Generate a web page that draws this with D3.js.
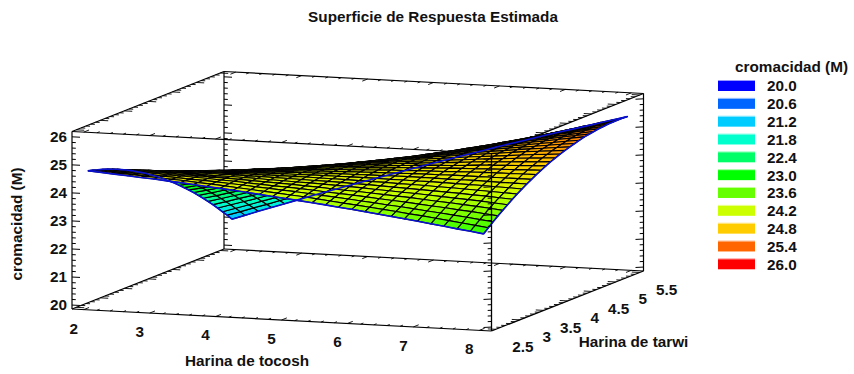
<!DOCTYPE html>
<html><head><meta charset="utf-8">
<script src="https://cdn.jsdelivr.net/npm/d3@7"></script>
<style>html,body{margin:0;padding:0;background:#fff}svg{display:block}
text{font-family:"Liberation Sans",Arial,sans-serif;font-weight:bold;fill:#111}</style>
</head><body><svg id="c" width="854" height="374"></svg>
<script>
const chartTitle = "Superficie de Respuesta Estimada";
const xTitle = "Harina de tocosh", yTitle = "Harina de tarwi", zTitle = "cromacidad (M)";
const xTicks = [2,3,4,5,6,7,8];
const yTicks = [2.5,3,3.5,4,4.5,5,5.5];
const zTicks = [20,21,22,23,24,25,26];
const legendValues = [20.0,20.6,21.2,21.8,22.4,23.0,23.6,24.2,24.8,25.4,26.0];
const legendColors = ["#0000ff","#0066ff","#00ccff","#00ffcc","#00ff66","#00ff00","#66ff00","#ccff00","#ffcc00","#ff6600","#ff0000"];
// surface: one row per Harina de tarwi (2.5 to 5.5), one column per Harina de tocosh (2 to 8)
const surfaceZ = [
[24.75,24.72,24.68,24.65,24.61,24.58,24.54,24.50,24.46,24.41,24.37,24.33,24.28,24.23,24.18,24.13,24.08,24.03,23.98,23.92,23.87,23.81,23.75,23.69,23.63,23.57,23.50,23.44,23.37,23.31,23.24],
[24.71,24.68,24.65,24.62,24.59,24.56,24.53,24.50,24.46,24.43,24.39,24.35,24.31,24.27,24.23,24.19,24.15,24.10,24.05,24.00,23.95,23.90,23.85,23.80,23.74,23.69,23.63,23.57,23.51,23.45,23.39],
[24.65,24.63,24.61,24.59,24.57,24.55,24.52,24.49,24.47,24.44,24.41,24.38,24.34,24.31,24.27,24.24,24.20,24.16,24.12,24.08,24.03,23.99,23.94,23.90,23.85,23.80,23.75,23.70,23.65,23.59,23.54],
[24.60,24.59,24.57,24.56,24.55,24.52,24.51,24.49,24.47,24.44,24.42,24.39,24.36,24.33,24.31,24.28,24.25,24.21,24.18,24.15,24.11,24.07,24.03,24.00,23.95,23.91,23.87,23.82,23.78,23.73,23.68],
[24.54,24.53,24.52,24.52,24.51,24.49,24.48,24.47,24.45,24.44,24.42,24.40,24.38,24.36,24.34,24.31,24.29,24.26,24.23,24.21,24.18,24.15,24.12,24.09,24.05,24.01,23.98,23.94,23.90,23.86,23.81],
[24.47,24.47,24.47,24.46,24.46,24.46,24.45,24.44,24.43,24.43,24.42,24.41,24.39,24.38,24.36,24.35,24.33,24.31,24.29,24.27,24.24,24.22,24.19,24.17,24.14,24.11,24.08,24.05,24.02,23.98,23.94],
[24.40,24.40,24.41,24.41,24.42,24.42,24.42,24.42,24.42,24.42,24.41,24.41,24.40,24.39,24.38,24.37,24.36,24.35,24.33,24.32,24.30,24.28,24.26,24.24,24.22,24.20,24.18,24.15,24.13,24.10,24.07],
[24.32,24.33,24.34,24.35,24.36,24.38,24.38,24.39,24.39,24.40,24.40,24.40,24.40,24.40,24.40,24.39,24.39,24.38,24.37,24.36,24.36,24.34,24.33,24.32,24.30,24.29,24.27,24.25,24.23,24.21,24.19],
[24.24,24.25,24.27,24.29,24.31,24.32,24.34,24.35,24.36,24.37,24.38,24.39,24.40,24.40,24.41,24.41,24.41,24.41,24.41,24.41,24.40,24.40,24.39,24.39,24.38,24.37,24.36,24.35,24.33,24.32,24.30],
[24.15,24.17,24.20,24.22,24.25,24.27,24.29,24.31,24.33,24.34,24.36,24.37,24.39,24.40,24.41,24.42,24.43,24.43,24.44,24.44,24.45,24.45,24.45,24.45,24.44,24.44,24.44,24.43,24.42,24.42,24.41],
[24.05,24.09,24.12,24.15,24.18,24.21,24.23,24.26,24.28,24.31,24.33,24.35,24.37,24.39,24.41,24.42,24.44,24.45,24.46,24.47,24.48,24.49,24.50,24.50,24.51,24.51,24.51,24.51,24.51,24.51,24.51],
[23.95,23.99,24.03,24.07,24.10,24.14,24.17,24.21,24.24,24.27,24.30,24.33,24.35,24.38,24.40,24.42,24.44,24.46,24.48,24.50,24.51,24.53,24.54,24.55,24.57,24.58,24.59,24.60,24.60,24.61,24.61],
[23.85,23.89,23.94,23.98,24.02,24.07,24.10,24.14,24.18,24.22,24.25,24.29,24.32,24.35,24.38,24.41,24.44,24.47,24.49,24.52,24.54,24.56,24.58,24.60,24.62,24.63,24.65,24.66,24.67,24.69,24.70],
[23.73,23.79,23.84,23.89,23.94,23.99,24.03,24.08,24.13,24.17,24.21,24.25,24.29,24.33,24.37,24.40,24.43,24.46,24.50,24.53,24.56,24.59,24.61,24.63,24.66,24.69,24.71,24.73,24.75,24.77,24.79],
[23.62,23.68,23.73,23.79,23.85,23.90,23.95,24.01,24.06,24.11,24.16,24.21,24.25,24.30,24.34,24.38,24.42,24.46,24.50,24.54,24.57,24.61,24.64,24.67,24.71,24.74,24.77,24.79,24.82,24.84,24.87],
[23.50,23.56,23.63,23.69,23.75,23.81,23.87,23.93,23.99,24.05,24.10,24.16,24.21,24.26,24.31,24.36,24.41,24.45,24.50,24.54,24.58,24.62,24.66,24.70,24.74,24.78,24.81,24.85,24.88,24.91,24.94],
[23.37,23.44,23.51,23.58,23.65,23.72,23.79,23.85,23.92,23.98,24.04,24.10,24.16,24.22,24.27,24.33,24.38,24.44,24.49,24.54,24.59,24.63,24.68,24.73,24.77,24.81,24.85,24.90,24.94,24.97,25.01],
[23.23,23.31,23.39,23.47,23.54,23.62,23.69,23.76,23.83,23.90,23.97,24.04,24.10,24.17,24.23,24.30,24.36,24.42,24.48,24.53,24.59,24.64,24.70,24.75,24.80,24.85,24.90,24.95,24.99,25.03,25.07],
[23.10,23.19,23.27,23.35,23.43,23.51,23.59,23.67,23.75,23.82,23.90,23.97,24.04,24.11,24.19,24.26,24.32,24.39,24.45,24.52,24.58,24.64,24.70,24.76,24.82,24.87,24.93,24.98,25.03,25.08,25.13],
[22.95,23.04,23.14,23.23,23.31,23.40,23.49,23.57,23.66,23.74,23.82,23.90,23.98,24.06,24.13,24.21,24.28,24.35,24.43,24.50,24.56,24.63,24.70,24.76,24.83,24.89,24.95,25.01,25.07,25.13,25.18],
[22.80,22.90,23.00,23.09,23.19,23.28,23.38,23.47,23.56,23.65,23.74,23.82,23.91,23.99,24.07,24.16,24.24,24.32,24.39,24.47,24.55,24.62,24.69,24.76,24.83,24.91,24.97,25.04,25.10,25.17,25.23],
[22.65,22.75,22.86,22.96,23.06,23.16,23.26,23.36,23.46,23.55,23.65,23.74,23.83,23.92,24.01,24.10,24.19,24.27,24.36,24.44,24.52,24.60,24.68,24.76,24.84,24.92,24.99,25.06,25.14,25.21,25.28],
[22.49,22.60,22.71,22.82,22.92,23.03,23.14,23.24,23.35,23.45,23.55,23.65,23.75,23.85,23.94,24.04,24.13,24.22,24.31,24.40,24.49,24.58,24.67,24.75,24.83,24.92,25.00,25.08,25.16,25.24,25.31],
[22.32,22.44,22.56,22.67,22.79,22.90,23.01,23.12,23.23,23.34,23.45,23.56,23.66,23.76,23.87,23.97,24.07,24.17,24.27,24.36,24.46,24.55,24.64,24.74,24.83,24.92,25.00,25.09,25.17,25.26,25.34],
[22.15,22.27,22.40,22.52,22.64,22.76,22.88,23.00,23.11,23.23,23.35,23.46,23.57,23.68,23.79,23.90,24.00,24.11,24.21,24.32,24.42,24.52,24.62,24.72,24.81,24.91,25.00,25.10,25.19,25.28,25.37],
[21.97,22.10,22.23,22.36,22.49,22.62,22.74,22.87,22.99,23.11,23.23,23.35,23.47,23.59,23.70,23.82,23.93,24.04,24.15,24.26,24.37,24.48,24.58,24.69,24.79,24.89,24.99,25.09,25.19,25.29,25.38],
[21.79,21.92,22.06,22.19,22.33,22.47,22.60,22.73,22.86,22.99,23.12,23.24,23.37,23.49,23.61,23.73,23.85,23.97,24.09,24.21,24.32,24.43,24.55,24.66,24.77,24.88,24.98,25.09,25.19,25.30,25.40],
[21.60,21.74,21.88,22.02,22.17,22.31,22.45,22.59,22.72,22.86,22.99,23.12,23.25,23.38,23.51,23.64,23.76,23.89,24.01,24.14,24.26,24.38,24.50,24.62,24.74,24.85,24.96,25.08,25.19,25.30,25.41],
[21.40,21.55,21.70,21.85,22.00,22.15,22.30,22.44,22.58,22.72,22.86,23.00,23.14,23.27,23.41,23.55,23.68,23.81,23.94,24.07,24.20,24.32,24.45,24.57,24.70,24.82,24.94,25.06,25.18,25.30,25.41],
[21.21,21.36,21.52,21.67,21.83,21.98,22.14,22.29,22.44,22.59,22.73,22.88,23.02,23.17,23.31,23.45,23.59,23.73,23.86,24.00,24.13,24.26,24.40,24.53,24.66,24.79,24.91,25.04,25.16,25.29,25.41],
[21.00,21.16,21.33,21.49,21.65,21.81,21.97,22.13,22.28,22.44,22.59,22.74,22.89,23.04,23.19,23.34,23.48,23.63,23.77,23.91,24.06,24.20,24.33,24.47,24.61,24.74,24.87,25.00,25.14,25.27,25.40]
];

const svg = d3.select("#c");
// axis scales: each maps a value to its 0..1 position along one edge of the box
const U = d3.scaleLinear().domain([1.822,8.185]).range([0,1]);
const V = d3.scaleLinear().domain([2.411,5.579]).range([0,1]);
const W = d3.scaleLinear().domain([19.86,26.19]).range([0,177.5]);
const origin = [72,309], du = [419.5,22], dv = [152,-60];
const P = (x,y,z) => [
  origin[0] + U(x)*du[0] + V(y)*dv[0],
  origin[1] + U(x)*du[1] + V(y)*dv[1] - W(z)
];
const X0=U.domain()[0],X1=U.domain()[1],Y0=V.domain()[0],Y1=V.domain()[1],Z0=W.domain()[0],Z1=W.domain()[1];
const line = d3.line();
const color = d3.scaleLinear().domain(legendValues).range(legendColors).clamp(true);
const gridX = i => 2 + i*6/(surfaceZ[0].length-1);
const gridY = j => 2.5 + j*3/(surfaceZ.length-1);

function seg(g,a,b,w){ g.append("path").attr("d",line([a,b])).attr("fill","none").attr("stroke","#000").attr("stroke-width",w); }

const back = svg.append("g");
// box edges
[[ [X0,Y1,Z0],[X1,Y1,Z0] ],[ [X0,Y0,Z0],[X0,Y1,Z0] ],[ [X1,Y0,Z0],[X1,Y1,Z0] ],[ [X0,Y0,Z0],[X1,Y0,Z0] ],
 [ [X0,Y1,Z1],[X1,Y1,Z1] ],[ [X0,Y0,Z1],[X0,Y1,Z1] ],[ [X1,Y0,Z1],[X1,Y1,Z1] ],[ [X0,Y0,Z1],[X1,Y0,Z1] ],
 [ [X0,Y0,Z0],[X0,Y0,Z1] ],[ [X0,Y1,Z0],[X0,Y1,Z1] ],[ [X1,Y1,Z0],[X1,Y1,Z1] ]
].forEach(e=>seg(back,P(...e[0]),P(...e[1]),1.2));

// z ticks on vertical edges
const zMinor = d3.range(20,26.01,0.2);
function zEdge(g,x,y,sign){
  zMinor.forEach(z=>{
    const major = Math.abs(z-Math.round(z))<1e-6;
    const p = P(x,y,z);
    seg(g,p,[p[0]+sign*(major?8:3.8),p[1]+(major?0.4:0.2)],1);
  });
}
zEdge(back,X0,Y0,1); zEdge(back,X0,Y1,1); zEdge(back,X1,Y1,-1);

// x ticks along the long edges, y ticks along the short edges
const xMinor = d3.range(2,8.01,0.2), yMinor = d3.range(2.5,5.51,0.1);
[[Y0,1],[Y1,-1]].forEach(([y,s])=>[Z0,Z1].forEach(z=>xMinor.forEach(x=>{
  const major = Math.abs(x-Math.round(x))<1e-6, p=P(x,y,z), l=major?0.035:0.018;
  seg(back,p,[p[0]+s*l*dv[0],p[1]+s*l*dv[1]],0.9);
})));
[[X0,1],[X1,-1]].forEach(([x,s])=>[Z0,Z1].forEach(z=>yMinor.forEach(y=>{
  const major = Math.abs(y*2-Math.round(y*2))<1e-6, p=P(x,y,z), l=major?0.019:0.01;
  seg(back,p,[p[0]+s*l*du[0],p[1]+s*l*du[1]],0.9);
})));

// surface, far rows first so that the near slope covers the far one
const mesh = svg.append("g");
const cells = [];
for(let j=surfaceZ.length-2;j>=0;j--) for(let i=0;i<surfaceZ[0].length-1;i++){
  const a=surfaceZ[j][i],b=surfaceZ[j][i+1],c=surfaceZ[j+1][i+1],d=surfaceZ[j+1][i];
  cells.push({pts:[P(gridX(i),gridY(j),a),P(gridX(i+1),gridY(j),b),P(gridX(i+1),gridY(j+1),c),P(gridX(i),gridY(j+1),d)],m:(a+b+c+d)/4});
}
mesh.selectAll("path").data(cells).join("path")
  .attr("d",d=>line(d.pts)+"Z").attr("fill",d=>color(d.m))
  .attr("stroke","#000").attr("stroke-width",1.15).attr("stroke-linejoin","round");

// blue rim of the surface
const rim = svg.append("g").attr("fill","none").attr("stroke","#0a10d0").attr("stroke-width",1.6).attr("stroke-linejoin","round");
const nR=surfaceZ.length-1,nC=surfaceZ[0].length-1;
rim.append("path").attr("d",line(surfaceZ[nR].map((z,i)=>P(gridX(i),gridY(nR),z))));
rim.append("path").attr("d",line(surfaceZ.map((r,j)=>P(gridX(0),gridY(j),r[0]))));
rim.append("path").attr("d",line(surfaceZ.map((r,j)=>P(gridX(nC),gridY(j),r[nC]))));
rim.append("path").attr("d",line(surfaceZ[0].map((z,i)=>P(gridX(i),gridY(0),z))));

// near vertical edge stays in front of the surface
const front = svg.append("g");
seg(front,P(X1,Y0,Z0),P(X1,Y0,Z1),1.3);
zEdge(front,X1,Y0,-1);

// text
const stretch = 1.02, fs = 15;
function label(x,y,t,anchor){
  return svg.append("text").attr("transform",`translate(${x},${y}) scale(${stretch},1)`)
    .attr("text-anchor",anchor||"middle").attr("font-size",fs).attr("dy","0.36em").text(t);
}
label(433,17,chartTitle);
label(247,361,xTitle);
label(633.5,342,yTitle);
svg.append("text").attr("transform",`translate(17,224) rotate(-90) scale(${stretch},1)`)
  .attr("text-anchor","middle").attr("font-size",fs).attr("dy","0.36em").text(zTitle);
xTicks.forEach(x=>{const p=P(x,Y0,Z0);label(p[0]-10,p[1]+18.5,x);});
yTicks.forEach(y=>{const p=P(X1,y,Z0);label(p[0]+27,p[1]+17,y);});
zTicks.forEach(z=>{const p=P(X0,Y0,z);label(67,p[1],z,"end");});

// legend
label(791.5,67,zTitle);
const legendY = d3.scalePoint().domain(legendValues).range([86,264.3]);
legendValues.forEach((v,i)=>{
  svg.append("rect").attr("x",718).attr("y",legendY(v)-5).attr("width",37).attr("height",10).attr("fill",legendColors[i]);
  svg.append("path").attr("d",line([[718,legendY(v)-5.5],[755,legendY(v)-5.5]])).attr("stroke",legendColors[i]).attr("stroke-opacity",0.4).attr("fill","none");
  label(767,legendY(v),v.toFixed(1),"start");
});
</script></body></html>
